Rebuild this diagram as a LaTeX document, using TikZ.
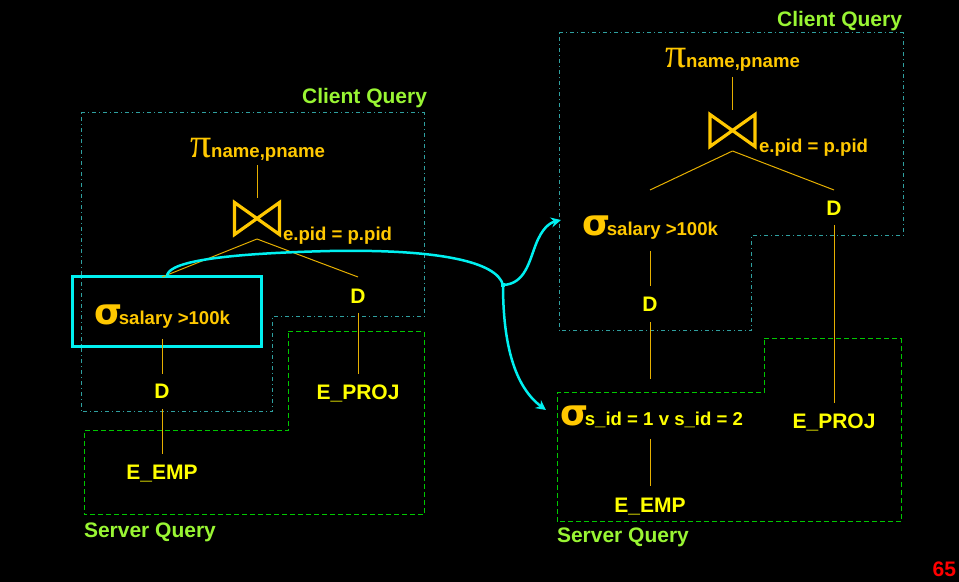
\documentclass[tikz,border=0pt]{standalone}
\usepackage{fontspec}
\setmainfont{Liberation Sans}
\newfontfamily\sigmafont{DejaVu Sans}
\newfontfamily\pifont{Liberation Serif}
\usetikzlibrary{arrows.meta,calc}

\definecolor{opcol}{HTML}{FFC800}
\definecolor{labcol}{HTML}{FFFF00}
\definecolor{edgecol}{HTML}{E6B000}
\definecolor{clientcol}{HTML}{2FA0A0}
\definecolor{servercol}{HTML}{00C800}
\definecolor{qcol}{HTML}{99F533}
\definecolor{flowcol}{HTML}{00F0F0}
\definecolor{pagecol}{HTML}{FF0000}

\newcommand\SigmaOp{{\sigmafont\bfseries\fontsize{18}{18}\selectfont σ}\kern-1.6pt}
\newcommand\PiOp{{\pifont\fontsize{21}{21}\selectfont π}}
\newcommand\OpSub[1]{{\fontsize{9.3}{11}\selectfont\bfseries #1}}

\tikzset{
  every node/.style={inner sep=0pt, outer sep=0pt},
  lbl/.style={font=\fontsize{10.5}{12}\selectfont\bfseries, text=labcol},
  qlbl/.style={font=\fontsize{10.5}{12}\selectfont\bfseries, text=qcol},
  optext/.style={text=opcol},
  joinbox/.style={minimum width=24pt, minimum height=20.5pt},
  edge/.style={draw=edgecol, line width=0.5pt},
  clientbox/.style={draw=clientcol, line width=0.5pt,
    dash pattern=on 2pt off 1.5pt on 0.5pt off 1.5pt},
  serverbox/.style={draw=servercol, line width=0.5pt,
    dash pattern=on 2.5pt off 1.5pt},
  hilite/.style={draw=flowcol, line width=1.5pt,
    minimum width=94.5pt, minimum height=35pt},
  flow/.style={draw=flowcol, line width=1.25pt},
  flowarrow/.style={flow, -{Stealth[length=5pt, width=5pt]}},
  junction/.style={fill=flowcol, minimum size=2.2pt},
  joinsym/.pic={
    \draw[opcol, line width=1.6pt, line join=miter]
      (-22.5,-16) -- (22.5,16) -- (22.5,-16) -- (-22.5,16) -- cycle;
  }
}

\begin{document}
\begin{tikzpicture}[x=0.5pt, y=-0.5pt]
  % page
  \fill[black] (0,0) rectangle (959,582);
  \useasboundingbox (0,0) rectangle (959,582);

  % ---------------- left plan ----------------
  \draw[clientbox] (81,113) -- (424,113) -- (424,317) -- (272,317)
                   -- (272,412) -- (81,412) -- cycle;
  \draw[serverbox] (288,332) -- (424,332) -- (424,515) -- (84,515)
                   -- (84,431) -- (288,431) -- cycle;
  \node[qlbl, anchor=base east] (cqL) at (427,104) {Client Query};
  \node[qlbl, anchor=base west] (sqL) at (84,538) {Server Query};

  \node[optext, anchor=base west] (piL) at (190,158)
    {\PiOp\OpSub{name,pname}};
  \node[joinbox] (joinL) at (257,218.5) {};
  \pic at (joinL) {joinsym};
  \node[optext, anchor=base west] (jsubL) at (283,241)
    {\OpSub{e.pid = p.pid}};

  \node[hilite] (hiL) at (167,311.5) {};
  \node[optext, anchor=base west] (sigL) at (94,325)
    {\SigmaOp\OpSub{salary >100k}};
  \node[lbl, anchor=base] (dL1) at (162,399) {D};
  \node[lbl, anchor=base] (eempL) at (162,480) {E\_EMP};
  \node[lbl, anchor=base] (dL2) at (358,304) {D};
  \node[lbl, anchor=base] (eprojL) at (358,400) {E\_PROJ};

  \draw[edge] ($(joinL |- piL.base)+(0,7)$) -- (joinL.north);
  \draw[edge] (joinL.south) -- ($(dL1 |- sigL.base)+(0,-48)$);
  \draw[edge] (joinL.south) -- ($(dL2.base)+(0,-27)$);
  \draw[edge] ($(dL1 |- sigL.base)+(0,14)$) -- ($(dL1.base)+(0,-25)$);
  \draw[edge] ($(dL1.base)+(0,10)$) -- ($(eempL.base)+(0,-26)$);
  \draw[edge] ($(dL2.base)+(0,9)$) -- ($(eprojL.base)+(0,-26)$);

  % ---------------- right plan ----------------
  \draw[clientbox] (559,33) -- (903,33) -- (903,236) -- (751,236)
                   -- (751,331) -- (559,331) -- cycle;
  \draw[serverbox] (764,339) -- (901,339) -- (901,522) -- (557,522)
                   -- (557,393) -- (764,393) -- cycle;
  \node[qlbl, anchor=base east] (cqR) at (902,27) {Client Query};
  \node[qlbl, anchor=base west] (sqR) at (557,543) {Server Query};

  \node[optext, anchor=base west] (piR) at (665,68)
    {\PiOp\OpSub{name,pname}};
  \node[joinbox] (joinR) at (732.5,130.5) {};
  \pic at (joinR) {joinsym};
  \node[optext, anchor=base west] (jsubR) at (759,153)
    {\OpSub{e.pid = p.pid}};

  \node[optext, anchor=base west] (sigR) at (582,236)
    {\SigmaOp\OpSub{salary >100k}};
  \node[lbl, anchor=base] (dR1) at (650,312) {D};
  \node[optext, anchor=base west] (sigR2) at (560,426)
    {\SigmaOp\OpSub{\color{labcol}s\_id = 1 v s\_id = 2}};
  \node[lbl, anchor=base] (eempR) at (650,513) {E\_EMP};
  \node[lbl, anchor=base] (dR2) at (834,216) {D};
  \node[lbl, anchor=base] (eprojR) at (834,429) {E\_PROJ};

  \draw[edge] ($(joinR |- piR.base)+(0,9)$) -- (joinR.north);
  \draw[edge] (joinR.south) -- ($(dR1 |- sigR.base)+(0,-46)$);
  \draw[edge] (joinR.south) -- ($(dR2.base)+(0,-26)$);
  \draw[edge] ($(dR2.base)+(0,9)$) -- ($(eprojR.base)+(0,-26)$);
  \draw[edge] ($(dR1 |- sigR.base)+(0,15)$) -- ($(dR1.base)+(0,-26)$);
  \draw[edge] ($(dR1.base)+(0,10)$) -- ($(dR1 |- sigR2.base)+(0,-47)$);
  \draw[edge] ($(eempR |- sigR2.base)+(0,13)$) -- ($(eempR.base)+(0,-27)$);

  % ---------------- moving the selection ----------------
  \node[junction] (jn) at (503,285) {};
  \draw[flow] (hiL.north) .. controls (167,264) and (205,254) .. (330,251)
              .. controls (440,249) and (497,262) .. (jn.center);
  \draw[flowarrow] (jn.center) .. controls (525,284) and (529,262) .. (536,244)
              .. controls (542,229) and (549,223) .. ($(sigR.base west)+(-21,-16)$);
  \draw[flowarrow] (jn.center) .. controls (503,345) and (515,387)
              .. ($(sigR2.base west)+(-14,-16)$);

  \node[font=\fontsize{10.5}{12}\selectfont\bfseries, text=pagecol,
        anchor=base east] (pg) at (956,577) {65};
\end{tikzpicture}
\end{document}
